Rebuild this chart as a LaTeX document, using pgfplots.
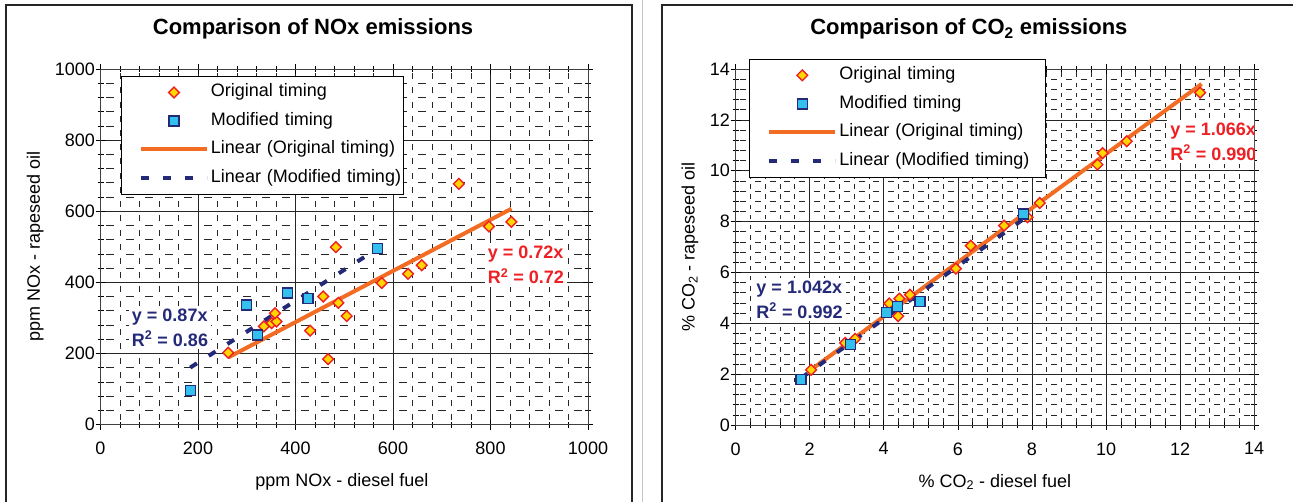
\documentclass[border=0pt]{standalone}
\usepackage{fontspec}
\setmainfont{Liberation Sans}
\usepackage{pgfplots}
\pgfplotsset{compat=1.18}
\definecolor{dred}{RGB}{238,32,36}
\definecolor{dyel}{RGB}{255,214,0}
\definecolor{dcyan}{RGB}{51,192,238}
\definecolor{dnavy}{RGB}{36,42,120}
\definecolor{dorange}{RGB}{242,108,36}
\pgfplotsset{
  emis/.style={
    scale only axis,
    axis line style={black!75, line width=0.8pt},
    tick style={black, line width=0.6pt},
    tick align=center,
    major tick length=10pt,
    minor tick length=6pt,
    minor tick num=4,
    grid=both,
    major grid style={black!85, line width=0.6pt},
    ticklabel style={font=\fontsize{18}{21}\selectfont},
    xticklabel style={yshift=-9pt},
    yticklabel style={xshift=3pt},
    /pgf/number format/assume math mode=true,
    /pgf/number format/1000 sep={},
    label style={font=\fontsize{18}{21}\selectfont},
    title style={font=\fontsize{22}{26}\selectfont\bfseries, yshift=0pt},
    legend cell align=left,
    legend style={draw=black, line width=0.6pt, fill=white,
      font=\fontsize{18}{21}\selectfont, inner xsep=0pt, inner ysep=7.5pt,
      row sep=11.5pt,
      nodes={inner sep=0pt, text height=13pt, text depth=4pt}},
    legend image code/.code={%
      \path (0pt,0pt);
      \draw[mark repeat=2, mark phase=2, #1] plot coordinates {(18pt,0pt) (51pt,0pt) (84pt,0pt)};
      \path (86pt,0pt);},
  },
  orig/.style={only marks, mark=square*, mark size=3.8pt,
    mark options={rotate=45, fill=dyel, draw=dred, line width=1.4pt, solid}},
  modi/.style={only marks, mark=square*, mark size=5pt,
    mark options={fill=dcyan, draw=dnavy, line width=1.4pt, solid}},
  lino/.style={no marks, dorange, line width=4pt},
  linm/.style={no marks, dnavy, line width=4pt, dash pattern=on 8pt off 14pt},
}
\begin{document}
\begin{tikzpicture}
\path[use as bounding box] (0pt,0pt) rectangle (1293pt,501pt);
% panel frames
\draw[gray!45, line width=0.8pt] (642pt,-5pt) -- (642pt,510pt);
\draw[black!85, line width=2pt] (6pt,-20pt) rectangle (632pt,496pt);
\draw[black!85, line width=2pt] (662pt,-20pt) rectangle (1320pt,496pt);

% ---------------- left: NOx
\begin{axis}[emis,
  at={(100.5pt,76.5pt)}, anchor=south west,
  width=487.5pt, height=355.5pt,
  xmin=0, xmax=1000, ymin=0, ymax=1000,
  xtick={0,200,...,1000}, ytick={0,200,...,1000},
  minor x grid style={black!85, line width=0.6pt, dash pattern=on 6pt off 8.22pt, dash phase=10.11pt},
  minor y grid style={black!85, line width=0.6pt, dash pattern=on 8pt off 11.5pt, dash phase=13.75pt},
  title={Comparison of NOx emissions},
  title style={at={(0.436,1.0955)}, anchor=center},
  xlabel={ppm NOx - diesel fuel},
  xlabel style={at={(0.495,-0.162)}, anchor=center},
  ylabel={ppm NOx - rapeseed oil},
  ylabel style={at={(-0.134,0.5)}, anchor=center},
  legend style={at={(0.0414,0.980)}, anchor=north west, nodes={text width=192pt}},
]
\node[anchor=west, fill=white, align=left, text=dnavy, inner sep=3pt,
  font=\fontsize{18}{25}\selectfont\bfseries] at (axis cs:58,273) {y = 0.87x\\R\textsuperscript{2} = 0.86};
\node[anchor=west, fill=white, align=left, text=dred, inner sep=3pt,
  font=\fontsize{18}{25}\selectfont\bfseries] at (axis cs:788,449) {y = 0.72x\\R\textsuperscript{2} = 0.72};
\addplot[orig] coordinates {
 (262,202) (335,276) (351,285) (361,290) (358,313) (430,264) (467,184)
 (457,360) (483,499) (488,342) (505,305) (577,398) (631,424) (659,448)
 (735,677) (797,557) (843,570)};
\addlegendentry{Original timing}
\addplot[modi] coordinates {
 (184,95) (299,336) (322,252) (383,370) (426,354) (568,495)};
\addlegendentry{Modified timing}
\addplot[lino] coordinates {(262,188.64) (843,606.96)};
\addlegendentry{Linear (Original timing)}
\addplot[linm] coordinates {(184,160.08) (568,494.16)};
\addlegendentry{Linear (Modified timing)}
\end{axis}

% ---------------- right: CO2
\begin{axis}[emis,
  at={(735.5pt,76pt)}, anchor=south west,
  width=518.7pt, height=356pt,
  xmin=0, xmax=14, ymin=0, ymax=14,
  xtick={0,2,...,14}, ytick={0,2,...,14},
  minor x grid style={black!85, line width=0.6pt, dash pattern=on 4.5pt off 5.67pt, dash phase=7.9pt},
  minor y grid style={black!85, line width=0.6pt, dash pattern=on 6pt off 8.82pt, dash phase=10.3pt},
  title={Comparison of CO\textsubscript{2} emissions},
  title style={at={(0.450,1.0955)}, anchor=center},
  xlabel={\% CO\textsubscript{2} - diesel fuel},
  xlabel style={at={(0.500,-0.160)}, anchor=center},
  ylabel={\% CO\textsubscript{2} - rapeseed oil},
  ylabel style={at={(-0.0877,0.5)}, anchor=center},
  legend style={at={(0.026,1.028)}, anchor=north west, nodes={text width=206pt}},
]
\node[anchor=west, fill=white, align=left, text=dnavy, inner sep=3pt,
  font=\fontsize{18}{25}\selectfont\bfseries] at (axis cs:0.48,4.94) {y = 1.042x\\R\textsuperscript{2} = 0.992};
\node[anchor=west, fill=white, align=left, text=dred, inner sep=3pt,
  font=\fontsize{18}{25}\selectfont\bfseries] at (axis cs:11.65,11.15) {y = 1.066x\\R\textsuperscript{2} = 0.990};
\addplot[orig] coordinates {
 (2.04,2.17) (2.96,3.23) (3.23,3.39) (4.15,4.78) (4.42,4.97) (4.39,4.28)
 (4.71,5.12) (5.95,6.15) (6.35,7.05) (7.25,7.84) (7.88,8.17) (8.21,8.73)
 (9.77,10.24) (9.91,10.69) (10.56,11.16) (12.54,13.07)};
\addlegendentry{Original timing}
\addplot[modi] coordinates {
 (1.77,1.78) (3.11,3.16) (4.08,4.42) (4.37,4.66) (4.98,4.85) (7.77,8.30)};
\addlegendentry{Modified timing}
\addplot[lino] coordinates {(2.04,2.175) (12.58,13.41)};
\addlegendentry{Linear (Original timing)}
\addplot[linm] coordinates {(1.77,1.844) (7.77,8.096)};
\addlegendentry{Linear (Modified timing)}
\end{axis}
\end{tikzpicture}
\end{document}
